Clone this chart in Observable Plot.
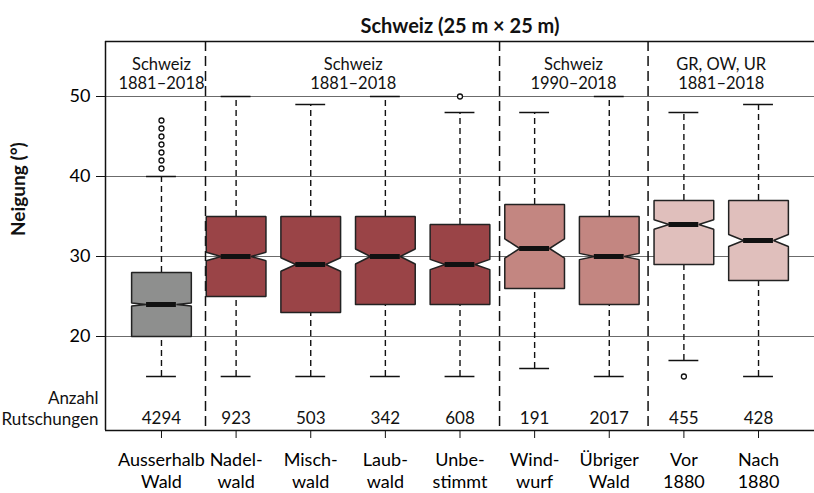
<!DOCTYPE html>
<html>
<head>
<meta charset="utf-8">
<script src="https://cdn.jsdelivr.net/npm/d3@7"></script>
<script src="https://cdn.jsdelivr.net/npm/@observablehq/plot@0.6"></script>
<style>
  html, body { margin: 0; padding: 0; background: #fff; }
  #chart svg { display: block; }
</style>
</head>
<body>
<div id="chart"></div>
<script>
const title = "Schweiz (25 m × 25 m)";
const yLabel = "Neigung (°)";
const countLabel = "Anzahl\nRutschungen";
const categories = ["Ausserhalb\nWald", "Nadel-\nwald", "Misch-\nwald", "Laub-\nwald", "Unbe-\nstimmt", "Wind-\nwurf", "Übriger\nWald", "Vor\n1880", "Nach\n1880"];
const q1 = [20, 25, 23, 24, 24, 26, 24, 29, 27];
const median = [24, 30, 29, 30, 29, 31, 30, 34, 32];
const q3 = [28, 35, 35, 35, 34, 36.5, 35, 37, 37];
const whiskerLow = [15, 15, 15, 15, 15, 16, 15, 17, 15];
const whiskerHigh = [40, 50, 49, 50, 48, 48, 50, 48, 49];
const notch = [0.2, 0.52, 0.85, 0.94, 0.64, 1.2, 0.39, 0.6, 0.75];
const counts = [4294, 923, 503, 342, 608, 191, 2017, 455, 428];
const boxColors = ["#8e8f8e", "#9a4447", "#9a4447", "#9a4447", "#9a4447", "#c38681", "#c38681", "#e0bfbc", "#e0bfbc"];
const outlierCat = [0, 0, 0, 0, 0, 0, 0, 4, 7];
const outlierVal = [47, 46, 45, 44, 43, 42, 41, 50, 15];
const groupLabels = ["Schweiz\n1881–2018", "Schweiz\n1881–2018", "Schweiz\n1990–2018", "GR, OW, UR\n1881–2018"];
const groupPos = [0, 2.57, 5.52, 7.5];
const separators = [0.59, 4.53, 6.52];
const yTicks = [20, 30, 40, 50];

const xDomain = [-0.75, 8.75];
const yDomain = [8.25, 56.875];
const font = "Lato, 'Open Sans', sans-serif";
const W = 0.4, N = 0.2, CAP = 0.2;

const idx = d3.range(categories.length);
const stats = idx.map(i => ({i, q1: q1[i], med: median[i], q3: q3[i], lo: whiskerLow[i], hi: whiskerHigh[i], n: notch[i], count: String(counts[i]), color: boxColors[i]}));
const outliers = outlierCat.map((c, k) => ({i: c, v: outlierVal[k]}));

function boxPath(s) {
  const {i, q1, med, q3, n} = s;
  return [
    [i - W, q1], [i + W, q1], [i + W, med - n], [i + N, med], [i + W, med + n],
    [i + W, q3], [i - W, q3], [i - W, med + n], [i - N, med], [i - W, med - n], [i - W, q1]
  ].map(([x, y]) => ({x, y}));
}

const boxMarks = stats.map(s => Plot.line(boxPath(s), {x: "x", y: "y", fill: s.color, stroke: "#222", strokeWidth: 1.5, strokeLinejoin: "miter"}));

const chart = Plot.plot({
  width: 814,
  height: 493,
  marginTop: 41,
  marginBottom: 63,
  marginLeft: 105,
  marginRight: 0,
  style: {fontFamily: font, background: "#fff"},
  x: {domain: xDomain, axis: null},
  y: {domain: yDomain, axis: null},
  marks: [
    Plot.ruleY(yTicks, {stroke: "#6b6b6b", strokeWidth: 1}),
    Plot.ruleX(separators, {stroke: "#111", strokeWidth: 1.5, strokeDasharray: "10,5"}),
    Plot.ruleX(stats, {x: "i", y1: "q3", y2: "hi", stroke: "#111", strokeWidth: 1.4, strokeDasharray: "6,4"}),
    Plot.ruleX(stats, {x: "i", y1: "lo", y2: "q1", stroke: "#111", strokeWidth: 1.4, strokeDasharray: "6,4"}),
    Plot.ruleY(stats, {y: "hi", x1: d => d.i - CAP, x2: d => d.i + CAP, stroke: "#111", strokeWidth: 1.5}),
    Plot.ruleY(stats, {y: "lo", x1: d => d.i - CAP, x2: d => d.i + CAP, stroke: "#111", strokeWidth: 1.5}),
    ...boxMarks,
    Plot.ruleY(stats, {y: "med", x1: d => d.i - N, x2: d => d.i + N, stroke: "#111", strokeWidth: 5}),
    Plot.dot(outliers, {x: "i", y: "v", r: 2.5, stroke: "#111", strokeWidth: 1.3, fill: "#fff"}),
    // frame lines
    Plot.ruleY([yDomain[1]], {stroke: "#111", strokeWidth: 1.5}),
    Plot.ruleY([yDomain[0]], {stroke: "#111", strokeWidth: 1.5}),
    Plot.ruleX([xDomain[0]], {stroke: "#111", strokeWidth: 1.5}),
    // axes
    Plot.axisY({ticks: yTicks, tickSize: 9, tickPadding: 6, fontSize: 18, stroke: "#111", label: null}),
    Plot.axisX({ticks: idx, tickFormat: i => categories[i], tickSize: 8, tickPadding: 12, fontSize: 18, lineHeight: 1.22, stroke: "#111", label: null}),
    // texts
    Plot.text([title], {frameAnchor: "top", dy: -23, fontSize: 20, fontWeight: "bold", fill: "#111"}),
    Plot.text([yLabel], {frameAnchor: "left", dx: -87, rotate: -90, fontSize: 19, fontWeight: "bold", fill: "#111"}),
    Plot.text(groupLabels, {x: (d, k) => groupPos[k], frameAnchor: "top", dy: 31.5, lineAnchor: "middle", fontSize: 16.5, lineHeight: 1.15, fill: "#111"}),
    Plot.text(stats, {x: "i", text: "count", frameAnchor: "bottom", dy: -12, lineAnchor: "middle", fontSize: 17, fill: "#111"}),
    Plot.text([countLabel], {frameAnchor: "bottom-left", dx: -7, dy: -22.5, textAnchor: "end", lineAnchor: "middle", fontSize: 17, lineHeight: 1.22, fill: "#111"})
  ]
});
document.getElementById("chart").appendChild(chart);
</script>
</body>
</html>
